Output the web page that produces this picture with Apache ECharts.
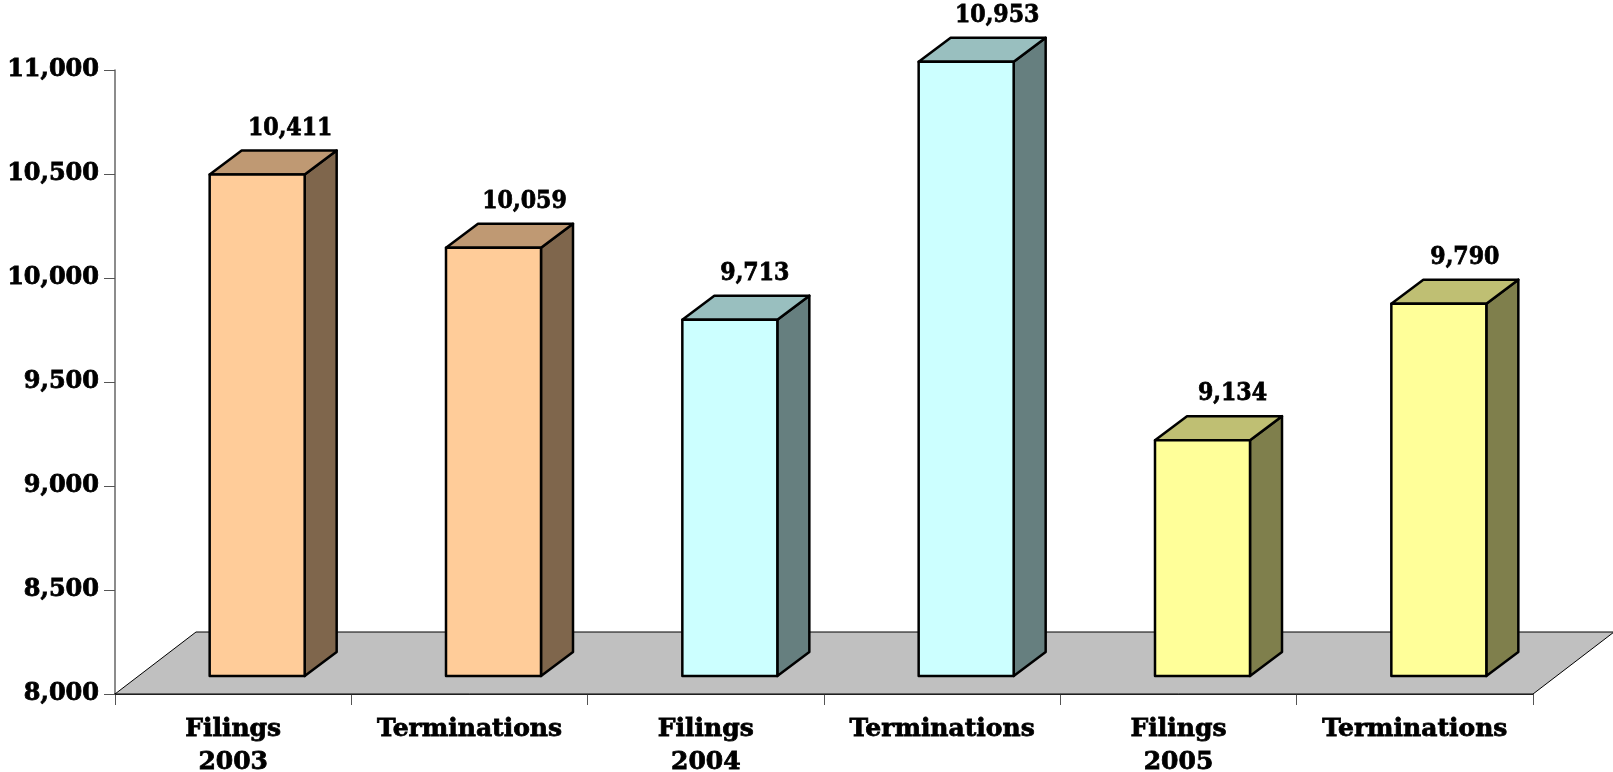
<!DOCTYPE html>
<html lang="en">
<head>
    <meta charset="UTF-8">
    <title>Filings and Terminations</title>
    <script src="https://cdn.jsdelivr.net/npm/echarts@6/dist/echarts.min.js"></script>
    <style>
        html, body { margin: 0; padding: 0; background: #fff; }
        #Echarts { width: 1613px; height: 772px; }
    </style>
</head>
<body>
<div id="Echarts"></div>
<script>
    // chart data
    var categories = ['Filings\n2003', 'Terminations', 'Filings\n2004', 'Terminations', 'Filings\n2005', 'Terminations'];
    var values = [10411, 10059, 9713, 10953, 9134, 9790];
    var yTicks = { min: 8000, max: 11000, interval: 500 };

    // front / top / side colour of each pair of bars
    var palette = [
        ['#FFCC99', '#BF9973', '#7F664C'],
        ['#CCFFFF', '#99BFBF', '#667F7F'],
        ['#FFFF99', '#BFBF73', '#7F7F4C']
    ];
    var labelFont = 'bold 24px "DejaVu Serif"';
    var labelNudge = [1, -1, -7, -1, -2, -6];   // value labels are not quite centred in the original
    var depthX = 32, depthY = 24;      // bar depth
    var floorX = 81, floorY = 62;      // floor depth
    var lift = 18, shift = 24, barW = 95;

    function fmt(v) {
        return String(v).replace(/\B(?=(\d{3})+$)/g, ',');
    }

    function renderFloor(params, api) {
        var c = params.coordSys;
        var x0 = c.x, x1 = c.x + c.width, y = c.y + c.height;
        return {
            type: 'polygon',
            shape: { points: [[x0, y], [x0 + floorX, y - floorY], [x1 + floorX, y - floorY], [x1, y]] },
            style: { fill: '#C0C0C0', stroke: '#000', lineWidth: 1 }
        };
    }

    function renderBar(params, api) {
        var i = api.value(0), v = api.value(1);
        var cx = api.coord([i, v])[0] + shift;
        var top = api.coord([i, v])[1] - lift;
        var bottom = api.coord([i, yTicks.min])[1] - lift;
        var l = cx - barW / 2, r = cx + barW / 2;
        var col = palette[Math.floor(i / 2)];
        var edge = { stroke: '#000', lineWidth: 2.5, lineJoin: 'round' };
        return {
            type: 'group',
            children: [
                {
                    type: 'polygon',
                    shape: { points: [[r, top], [r + depthX, top - depthY], [r + depthX, bottom - depthY], [r, bottom]] },
                    style: Object.assign({ fill: col[2] }, edge)
                },
                {
                    type: 'polygon',
                    shape: { points: [[l, top], [l + depthX, top - depthY], [r + depthX, top - depthY], [r, top]] },
                    style: Object.assign({ fill: col[1] }, edge)
                },
                {
                    type: 'rect',
                    shape: { x: l, y: top, width: barW, height: bottom - top },
                    style: Object.assign({ fill: col[0] }, edge)
                },
                {
                    type: 'text',
                    x: cx + depthX + labelNudge[i],
                    y: top - depthY - 22,
                    scaleX: 0.92,
                    style: {
                        text: fmt(v),
                        x: 0,
                        y: 0,
                        align: 'center',
                        verticalAlign: 'middle',
                        font: labelFont,
                        fill: '#000',
                        stroke: '#000',
                        lineWidth: 0.8
                    }
                }
            ]
        };
    }

    var myChart = echarts.init(document.getElementById('Echarts'));
    var option = {
        animation: false,
        grid: { left: 115, right: 80, top: 70, bottom: 78, outerBoundsMode: 'none' },
        xAxis: {
            type: 'category',
            data: categories,
            axisLine: { lineStyle: { color: '#000', width: 1.5 } },
            axisTick: { show: true, length: 11, lineStyle: { color: '#555', width: 1 } },
            axisLabel: {
                interval: 0,
                margin: 19,
                color: '#000',
                fontFamily: 'DejaVu Serif',
                fontWeight: 'bold',
                fontSize: 25,
                lineHeight: 33,
                textBorderColor: '#000',
                textBorderWidth: 0.8
            }
        },
        yAxis: {
            type: 'value',
            min: yTicks.min,
            max: yTicks.max,
            interval: yTicks.interval,
            splitLine: { show: false },
            axisLine: { show: true, lineStyle: { color: '#666', width: 1.5 } },
            axisTick: { show: true, length: 11, lineStyle: { color: '#555', width: 1 } },
            axisLabel: {
                margin: 16,
                padding: [6, 0, 0, 0],
                color: '#000',
                fontFamily: 'DejaVu Serif',
                fontWeight: 'bold',
                fontSize: 24,
                textBorderColor: '#000',
                textBorderWidth: 0.8,
                formatter: fmt
            }
        },
        series: [
            {
                type: 'custom',
                silent: true,
                z: 1,
                renderItem: renderFloor,
                data: [[0, yTicks.min]],
                encode: { x: 0, y: 1 }
            },
            {
                type: 'custom',
                z: 2,
                renderItem: renderBar,
                data: values.map(function (v, i) { return [i, v]; }),
                encode: { x: 0, y: 1 }
            }
        ]
    };
    myChart.setOption(option);
</script>
</body>
</html>
